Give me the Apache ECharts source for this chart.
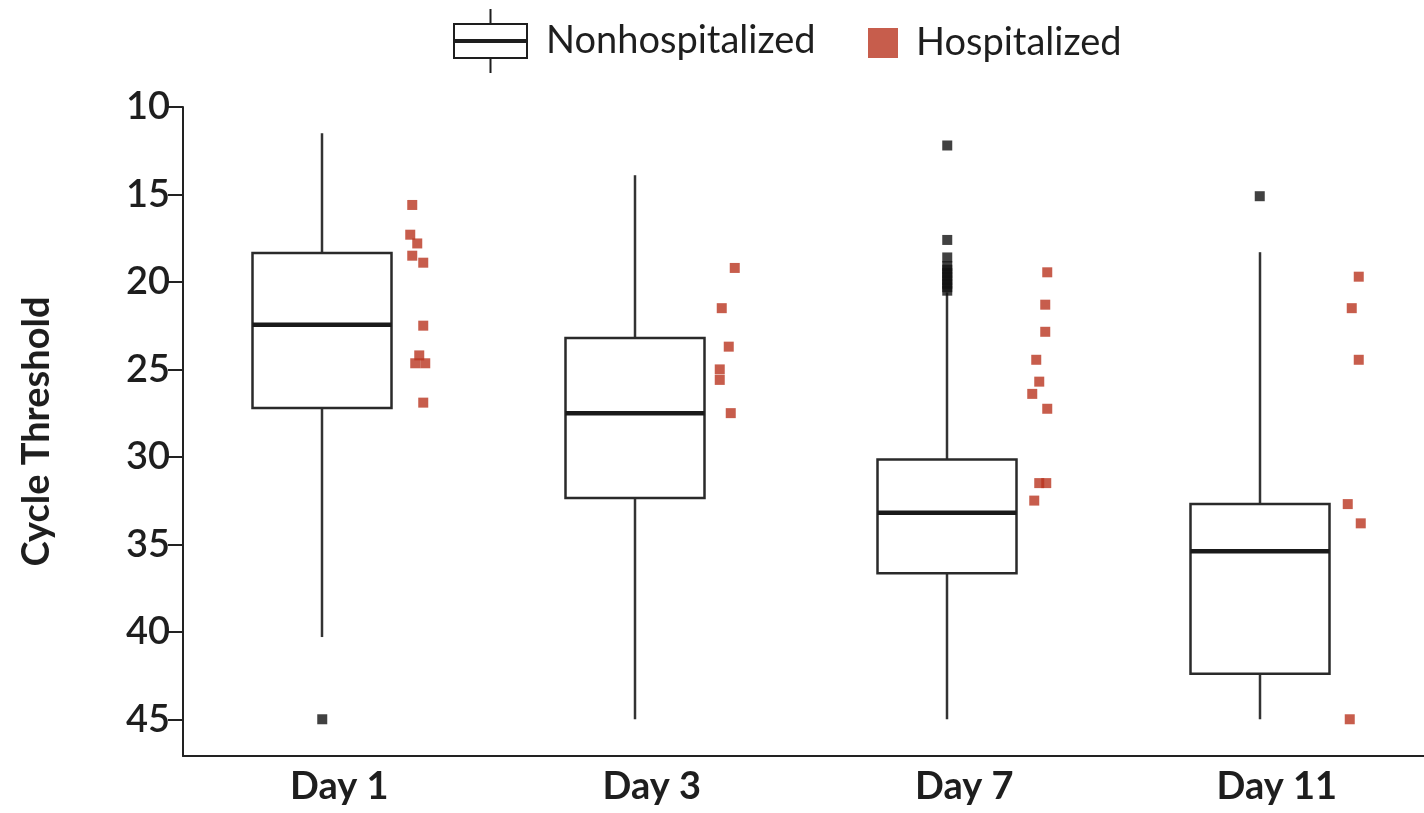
<!DOCTYPE html>
<html>
<head>
<meta charset="utf-8">
<script src="https://cdn.jsdelivr.net/npm/echarts@6/dist/echarts.min.js"></script>
<style>
html,body{margin:0;padding:0;background:#fff;}
#chart{width:1424px;height:813px;}
</style>
</head>
<body>
<div id="chart"></div>
<script>
// ---- data ----
const categories = ['Day 1', 'Day 3', 'Day 7', 'Day 11'];
const yTicks = [10, 15, 20, 25, 30, 35, 40, 45];

// Nonhospitalized box statistics: [upper whisker end (low Ct), Q1, median, Q3, lower whisker end (high Ct)]
const boxDay1  = [11.5, 18.35, 22.45, 27.2, 40.3];
const boxDay3  = [13.9, 23.2, 27.5, 32.35, 45.0];
const boxDay7  = [20.6, 30.15, 33.2, 36.65, 45.0];
const boxDay11 = [18.3, 32.7, 35.4, 42.4, 45.0];

// Nonhospitalized outliers
const outDay1  = [45.0];
const outDay3  = [];
const outDay7  = [12.2, 17.6, 18.6, 19.1, 19.3, 19.5, 19.7, 19.9, 20.1, 20.3, 20.5];
const outDay11 = [15.1];

// Hospitalized individual values
const hospDay1  = [15.6, 17.3, 17.8, 18.5, 18.9, 22.5, 24.2, 24.65, 24.65, 26.9];
const hospDay3  = [19.2, 21.5, 23.7, 25.0, 25.6, 27.5];
const hospDay7  = [19.45, 21.3, 22.85, 24.45, 25.7, 26.4, 27.25, 31.5, 31.5, 32.5];
const hospDay11 = [19.7, 21.5, 24.45, 32.7, 33.8, 45.0];

// horizontal jitter of the hospitalized points (px)
const jitDay1  = [5, 3, 10, 5, 16, 16, 12, 8, 18, 16];
const jitDay3  = [15, 2, 9, 0, 0, 11];
const jitDay7  = [15, 13, 13, 4, 7, 0, 15, 7, 14, 2];
const jitDay11 = [14, 7, 14, 3, 16, 5];

// ---- layout / style constants ----
const BOX_OFFSET = -17;   // px from category centre
const BOX_WIDTH = 139;
const HOSP_BASE = 68;     // px from category centre
const RED = '#b9351f';
const FONT = 'Lato';

const boxes = [boxDay1, boxDay3, boxDay7, boxDay11];
const outs = [outDay1, outDay3, outDay7, outDay11];
const hosps = [hospDay1, hospDay3, hospDay7, hospDay11];
const jits = [jitDay1, jitDay3, jitDay7, jitDay11];

const boxData = boxes.map((b, i) => [i].concat(b));
const outData = [];
outs.forEach((arr, i) => arr.forEach(v => outData.push([i, v])));
const hospData = [];
hosps.forEach((arr, i) => arr.forEach((v, k) => hospData.push({
  value: [i, v],
  symbolOffset: [HOSP_BASE + jits[i][k], 0]
})));

const legendBoxIcon = 'path://M36.5 0 L38.5 0 L38.5 14 L36.5 14 Z M0 14 L75 14 L75 50 L0 50 Z M2 16 L2 48 L73 48 L73 16 Z M0 30 L75 30 L75 34 L0 34 Z M36.5 50 L38.5 50 L38.5 64 L36.5 64 Z';

const chart = echarts.init(document.getElementById('chart'), null, {renderer: 'canvas'});
chart.setOption({
  animation: false,
  backgroundColor: '#fff',
  textStyle: {fontFamily: FONT},
  legend: [
    {
      data: [{name: 'Nonhospitalized', icon: legendBoxIcon}],
      left: 453, top: 9, padding: 0,
      itemWidth: 75, itemHeight: 64,
      selectedMode: false,
      textStyle: {fontFamily: FONT, fontSize: 38, color: '#1e1e1e', padding: [0, 0, 0, 13]}
    },
    {
      data: [{name: 'Hospitalized', icon: 'rect'}],
      left: 868, top: 24, padding: 0,
      itemWidth: 30, itemHeight: 30,
      selectedMode: false,
      textStyle: {fontFamily: FONT, fontSize: 38, color: '#1e1e1e', padding: [0, 0, 0, 13]}
    }
  ],
  grid: {left: 183, width: 1250, top: 107, bottom: 57, outerBoundsMode: 'none', containLabel: false},
  xAxis: {
    type: 'category',
    data: categories,
    axisTick: {show: false},
    axisLine: {onZero: false, lineStyle: {color: '#222', width: 2}},
    axisLabel: {fontFamily: FONT, fontSize: 38, fontWeight: 'bold', color: '#1e1e1e', margin: 12},
    splitLine: {show: false}
  },
  yAxis: {
    type: 'value',
    inverse: true,
    min: 10, max: 47.1,
    name: 'Cycle Threshold',
    nameLocation: 'middle',
    nameGap: 127,
    nameTextStyle: {fontFamily: FONT, fontSize: 38, fontWeight: 'bold', color: '#1e1e1e'},
    axisLine: {show: true, lineStyle: {color: '#222', width: 2}},
    axisTick: {show: true, length: 15, lineStyle: {color: '#222', width: 2}, customValues: yTicks},
    axisLabel: {fontFamily: FONT, fontSize: 38, fontWeight: 600, color: '#1e1e1e', margin: 13, customValues: yTicks},
    splitLine: {show: false}
  },
  series: [
    {
      name: 'Nonhospitalized',
      type: 'custom',
      itemStyle: {color: '#1e1e1e'},
      encode: {x: 0, y: [1, 2, 3, 4, 5]},
      data: boxData,
      z: 2,
      renderItem: function (params, api) {
        const ci = api.value(0);
        const pLow = api.coord([ci, api.value(1)]);
        const pQ1 = api.coord([ci, api.value(2)]);
        const pMed = api.coord([ci, api.value(3)]);
        const pQ3 = api.coord([ci, api.value(4)]);
        const pHigh = api.coord([ci, api.value(5)]);
        const cx = Math.round(pMed[0] + BOX_OFFSET);
        const hw = BOX_WIDTH / 2;
        const ws = {stroke: '#333', lineWidth: 2.5};
        return {
          type: 'group',
          children: [
            {type: 'line', shape: {x1: cx, y1: pLow[1], x2: cx, y2: pQ1[1]}, style: ws},
            {type: 'line', shape: {x1: cx, y1: pQ3[1], x2: cx, y2: pHigh[1]}, style: ws},
            {type: 'rect', shape: {x: cx - hw, y: pQ1[1], width: BOX_WIDTH, height: pQ3[1] - pQ1[1]},
              style: {fill: '#fff', stroke: '#2a2a2a', lineWidth: 2.5}},
            {type: 'line', shape: {x1: cx - hw, y1: pMed[1], x2: cx + hw, y2: pMed[1]},
              style: {stroke: '#1a1a1a', lineWidth: 4.5}}
          ]
        };
      }
    },
    {
      name: 'Nonhospitalized outliers',
      type: 'scatter',
      symbol: 'rect',
      symbolSize: 10,
      symbolOffset: [BOX_OFFSET, 0],
      itemStyle: {color: '#111'},
      data: outData,
      z: 3
    },
    {
      name: 'Hospitalized',
      type: 'scatter',
      symbol: 'rect',
      symbolSize: 10,
      itemStyle: {color: RED},
      data: hospData,
      z: 3
    }
  ]
});
</script>
</body>
</html>
